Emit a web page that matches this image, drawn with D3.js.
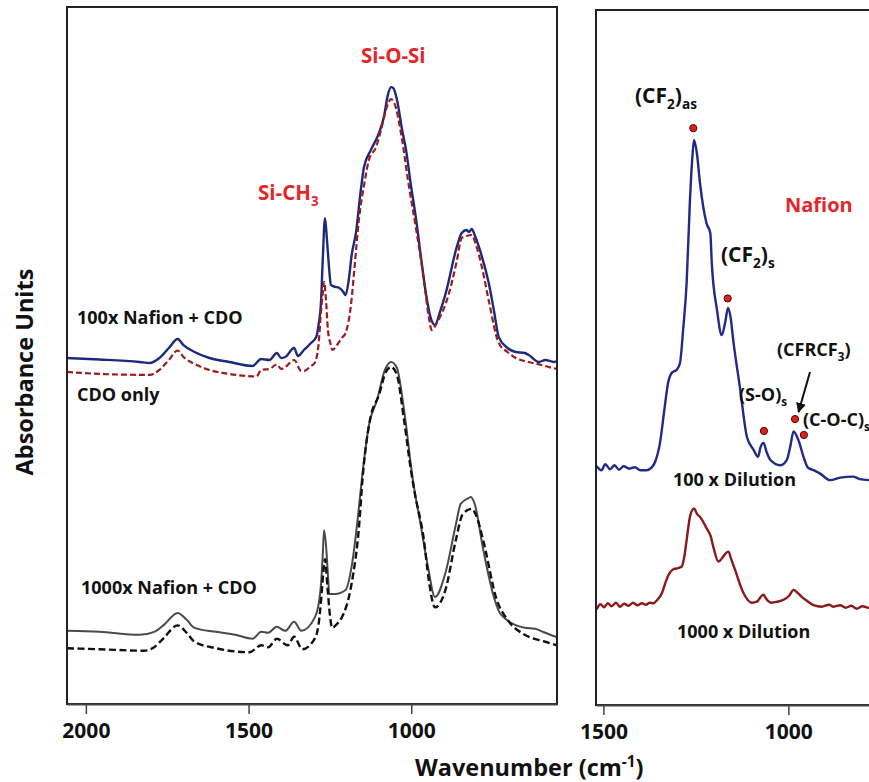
<!DOCTYPE html>
<html>
<head>
<meta charset="utf-8">
<script src="https://cdn.jsdelivr.net/npm/d3@7"></script>
<style>
  body { margin: 0; background: #fff; }
  svg { display: block; font-family: "Open Sans", sans-serif; font-weight: 700; }
</style>
</head>
<body>
<script>
// ---- data: [wavenumber (cm-1), absorbance (a.u.)] ----
const nafion100Cdo = [
  [2058,0.695],[1958,0.692],[1835,0.687],[1804,0.685],[1774,0.695],[1745,0.715],[1718,0.733],
  [1700,0.721],[1666,0.707],[1620,0.695],[1559,0.687],[1488,0.679],[1461,0.693],[1436,0.691],
  [1413,0.705],[1400,0.695],[1387,0.697],[1360,0.715],[1348,0.699],[1330,0.711],[1308,0.725],
  [1292,0.737],[1285,0.761],[1277,0.811],[1272,0.892],[1265,0.976],[1259,0.932],[1252,0.872],
  [1247,0.842],[1234,0.838],[1222,0.836],[1208,0.827],[1202,0.821],[1192,0.852],[1183,0.902],
  [1170,0.946],[1155,1.032],[1145,1.079],[1124,1.113],[1099,1.147],[1084,1.179],[1072,1.223],
  [1062,1.239],[1055,1.237],[1044,1.214],[1028,1.153],[1016,1.113],[1001,1.042],[986,0.978],
  [971,0.902],[955,0.825],[940,0.775],[927,0.761],[912,0.787],[894,0.825],[860,0.918],
  [845,0.946],[830,0.952],[823,0.948],[814,0.954],[805,0.942],[792,0.918],[762,0.846],
  [746,0.791],[731,0.737],[704,0.715],[679,0.707],[651,0.705],[639,0.701],[608,0.687],
  [588,0.691],[562,0.687],[552,0.689]
];

const cdoOnlyTop = [
  [2058,0.667],[1958,0.663],[1804,0.661],[1774,0.671],[1745,0.691],[1718,0.710],[1700,0.697],
  [1666,0.683],[1620,0.671],[1559,0.663],[1476,0.658],[1461,0.671],[1436,0.673],[1413,0.682],
  [1400,0.673],[1387,0.677],[1360,0.691],[1338,0.669],[1329,0.669],[1308,0.679],[1297,0.685],
  [1285,0.721],[1277,0.791],[1271,0.831],[1268,0.848],[1262,0.811],[1256,0.751],[1247,0.721],
  [1243,0.711],[1228,0.721],[1214,0.735],[1202,0.745],[1192,0.771],[1186,0.797],[1175,0.872],
  [1160,0.978],[1145,1.042],[1130,1.093],[1108,1.119],[1093,1.153],[1078,1.193],[1062,1.215],
  [1052,1.207],[1028,1.133],[1010,1.052],[986,0.958],[961,0.852],[946,0.777],[937,0.751],
  [920,0.767],[884,0.825],[860,0.890],[845,0.936],[830,0.940],[814,0.942],[800,0.920],
  [783,0.878],[762,0.811],[731,0.725],[704,0.707],[679,0.695],[640,0.687],[600,0.681],
  [578,0.677],[552,0.673]
];

const nafion1000Cdo = [
  [2058,0.147],[1958,0.145],[1835,0.139],[1790,0.145],[1760,0.159],[1718,0.183],[1690,0.169],
  [1666,0.153],[1600,0.145],[1540,0.139],[1488,0.131],[1461,0.145],[1440,0.143],[1413,0.155],
  [1387,0.147],[1360,0.165],[1338,0.147],[1297,0.173],[1285,0.199],[1277,0.243],[1272,0.299],
  [1268,0.349],[1262,0.319],[1256,0.259],[1252,0.221],[1234,0.221],[1202,0.229],[1183,0.277],
  [1163,0.381],[1152,0.450],[1130,0.560],[1105,0.611],[1081,0.671],[1062,0.687],[1044,0.675],
  [1022,0.590],[995,0.450],[971,0.360],[949,0.277],[927,0.215],[895,0.263],[863,0.360],
  [848,0.402],[823,0.414],[817,0.416],[805,0.402],[779,0.311],[746,0.215],[725,0.180],
  [651,0.153],[620,0.151],[588,0.143],[552,0.134]
];

const cdoOnlyBottom = [
  [2058,0.112],[1958,0.110],[1822,0.107],[1790,0.114],[1760,0.133],[1718,0.158],[1690,0.143],
  [1666,0.125],[1600,0.112],[1497,0.104],[1461,0.118],[1440,0.114],[1413,0.131],[1380,0.118],
  [1360,0.135],[1335,0.110],[1297,0.131],[1285,0.159],[1277,0.209],[1271,0.259],[1265,0.291],
  [1258,0.239],[1250,0.179],[1243,0.153],[1228,0.161],[1214,0.173],[1183,0.243],[1160,0.360],
  [1150,0.450],[1127,0.570],[1099,0.621],[1078,0.667],[1062,0.677],[1044,0.661],[1022,0.570],
  [1001,0.470],[991,0.430],[961,0.329],[946,0.249],[927,0.194],[895,0.229],[863,0.329],
  [842,0.381],[814,0.392],[800,0.378],[779,0.329],[737,0.209],[704,0.169],[651,0.139],
  [588,0.125],[552,0.118]
];

const dilution100 = [
  [1518,0.481],[1505,0.473],[1495,0.485],[1482,0.475],[1470,0.483],[1458,0.474],[1445,0.481],
  [1430,0.476],[1415,0.479],[1400,0.473],[1383,0.473],[1370,0.478],[1360,0.490],[1347,0.528],
  [1336,0.590],[1325,0.649],[1314,0.670],[1302,0.675],[1293,0.689],[1284,0.760],[1275,0.850],
  [1266,1.017],[1260,1.098],[1255,1.138],[1247,1.110],[1239,1.052],[1221,0.970],[1211,0.951],
  [1207,0.890],[1193,0.796],[1180,0.745],[1171,0.770],[1163,0.800],[1156,0.780],[1149,0.735],
  [1130,0.635],[1112,0.540],[1094,0.514],[1082,0.500],[1075,0.520],[1067,0.528],[1059,0.510],
  [1049,0.494],[1022,0.483],[1004,0.494],[995,0.520],[986,0.551],[973,0.534],[959,0.500],
  [947,0.478],[932,0.473],[914,0.466],[887,0.453],[860,0.458],[825,0.460],[807,0.455],[782,0.453]
];

const dilution1000 = [
  [1518,0.193],[1508,0.203],[1498,0.197],[1488,0.205],[1478,0.199],[1466,0.206],[1455,0.198],
  [1444,0.204],[1432,0.200],[1420,0.206],[1408,0.201],[1396,0.205],[1385,0.202],[1375,0.206],
  [1365,0.205],[1354,0.212],[1342,0.225],[1333,0.245],[1324,0.262],[1312,0.273],[1302,0.275],
  [1288,0.279],[1281,0.300],[1275,0.332],[1266,0.379],[1255,0.396],[1247,0.385],[1239,0.379],
  [1221,0.356],[1210,0.340],[1203,0.319],[1189,0.289],[1180,0.295],[1170,0.305],[1162,0.309],
  [1155,0.295],[1144,0.272],[1121,0.225],[1099,0.206],[1085,0.208],[1072,0.220],[1067,0.222],
  [1060,0.214],[1045,0.206],[1030,0.208],[1013,0.212],[998,0.220],[986,0.232],[975,0.226],
  [964,0.218],[950,0.210],[932,0.201],[910,0.198],[890,0.202],[878,0.198],[860,0.201],
  [845,0.196],[830,0.200],[815,0.194],[800,0.199],[782,0.195]
];

// peak markers on the 100x dilution curve
const peakMarks = [[1257,1.162],[1164,0.819],[1066,0.552],[982,0.576],[958,0.544]];

const leftTicks = [2000, 1500, 1000];
const rightTicks = [1500, 1000];

const width = 869;
const height = 782;

const svg = d3.select("body")
  .append("svg")
  .attr("width", width)
  .attr("height", height);

// scales
const xL = d3.scaleLinear().domain([2058, 552]).range([67, 557]);
const yL = d3.scaleLinear().domain([0, 1.4]).range([704, 7]);
const xR = d3.scaleLinear().domain([1520, 782]).range([596, 869]);
const yR = d3.scaleLinear().domain([0, 1.4]).range([705, 10]);

const lineL = d3.line().x(d => xL(d[0])).y(d => yL(d[1])).curve(d3.curveMonotoneX);
const lineR = d3.line().x(d => xR(d[0])).y(d => yR(d[1])).curve(d3.curveMonotoneX);

const defs = svg.append("defs");
defs.append("clipPath").attr("id", "clipL")
  .append("rect").attr("x", 67).attr("y", 7).attr("width", 490).attr("height", 697);
defs.append("clipPath").attr("id", "clipR")
  .append("rect").attr("x", 596).attr("y", 10).attr("width", 300).attr("height", 695);
defs.append("marker")
  .attr("id", "arrow").attr("viewBox", "0 0 10 10")
  .attr("refX", 9).attr("refY", 5)
  .attr("markerWidth", 5).attr("markerHeight", 5)
  .attr("orient", "auto")
  .append("path").attr("d", "M0,0 L10,5 L0,10 z").attr("fill", "#111");

// curves - left panel
const gL = svg.append("g").attr("clip-path", "url(#clipL)");
const leftSeries = [
  {data: nafion100Cdo, color: "#1d2a7c", dash: null, w: 2.4},
  {data: cdoOnlyTop, color: "#9e1b1b", dash: "6,3", w: 2.2},
  {data: nafion1000Cdo, color: "#4a4a4a", dash: null, w: 2},
  {data: cdoOnlyBottom, color: "#111", dash: "7,3.5", w: 2.4}
];
gL.selectAll("path")
  .data(leftSeries)
  .enter()
  .append("path")
  .attr("fill", "none")
  .attr("stroke", d => d.color)
  .attr("stroke-width", d => d.w)
  .attr("stroke-dasharray", d => d.dash)
  .attr("d", d => lineL(d.data));

// curves - right panel
const gR = svg.append("g").attr("clip-path", "url(#clipR)");
gR.append("path")
  .datum(dilution100)
  .attr("fill", "none")
  .attr("stroke", "#1f2b86")
  .attr("stroke-width", 2.4)
  .attr("d", lineR);
gR.append("path")
  .datum(dilution1000)
  .attr("fill", "none")
  .attr("stroke", "#8c1a1a")
  .attr("stroke-width", 2.4)
  .attr("d", lineR);
gR.selectAll("circle")
  .data(peakMarks)
  .enter()
  .append("circle")
  .attr("cx", d => xR(d[0]))
  .attr("cy", d => yR(d[1]))
  .attr("r", 3.6)
  .attr("fill", "#e0201c")
  .attr("stroke", "#4a0a0a")
  .attr("stroke-width", 1);

// frames
svg.append("rect")
  .attr("x", 67).attr("y", 7).attr("width", 490).attr("height", 697)
  .attr("fill", "none").attr("stroke", "#222").attr("stroke-width", 2);
svg.append("path")
  .attr("d", "M880,10 H596 V705 H880")
  .attr("fill", "none").attr("stroke", "#222").attr("stroke-width", 2);

// axes
function styleAxis(g) {
  g.attr("font-family", null).attr("font-size", null);
  g.select(".domain").attr("stroke", "#444").attr("stroke-width", 2);
  g.selectAll(".tick line").attr("stroke", "#444").attr("stroke-width", 1.5);
  g.selectAll(".tick text").attr("font-size", 21).attr("fill", "#111");
}
svg.append("g")
  .attr("transform", "translate(0,704)")
  .call(d3.axisBottom(xL).tickValues(leftTicks).tickFormat(d3.format("d"))
    .tickSize(10).tickSizeOuter(0).tickPadding(9))
  .call(styleAxis);
svg.append("g")
  .attr("transform", "translate(0,705)")
  .call(d3.axisBottom(xR).tickValues(rightTicks).tickFormat(d3.format("d"))
    .tickSize(10).tickSizeOuter(0).tickPadding(9))
  .call(styleAxis);

// text with sub/superscripts
function richText(x, y, parts, size, color) {
  const t = svg.append("text")
    .attr("x", x).attr("y", y)
    .attr("font-size", size)
    .attr("fill", color || "#111");
  let shift = 0;
  parts.forEach(([s, k]) => {
    const target = k === "sub" ? size * 0.3 : k === "sup" ? -size * 0.4 : 0;
    t.append("tspan")
      .attr("dy", target - shift)
      .attr("font-size", k ? size * 0.65 : size)
      .text(s);
    shift = target;
  });
  return t;
}

const red = "#e4262b";
richText(361, 63, [["Si-O-Si"]], 20.5, red);
richText(258, 200, [["Si-CH"], ["3", "sub"]], 20.5, red);
richText(77, 324, [["100x Nafion + CDO"]], 18);
richText(77, 401, [["CDO only"]], 18);
richText(81, 594, [["1000x Nafion + CDO"]], 18);

richText(635, 103, [["(CF"], ["2", "sub"], [")"], ["as", "sub"]], 21);
richText(785, 212, [["Nafion"]], 20, red);
richText(721, 262, [["(CF"], ["2", "sub"], [")"], ["s", "sub"]], 21);
richText(777, 356, [["(CFRCF"], ["3", "sub"], [")"]], 18);
richText(739, 401, [["(S-O)"], ["s", "sub"]], 18);
richText(803, 426, [["(C-O-C)"], ["s", "sub"]], 18);
richText(673, 486, [["100 x Dilution"]], 18);
richText(677, 638, [["1000 x Dilution"]], 18);

svg.append("line")
  .attr("x1", 810).attr("y1", 372)
  .attr("x2", 798.5).attr("y2", 412)
  .attr("stroke", "#111").attr("stroke-width", 2)
  .attr("marker-end", "url(#arrow)");

// axis titles
richText(415, 776, [["Wavenumber (cm"], ["-1", "sup"], [")"]], 23.5);
svg.append("text")
  .attr("transform", "translate(33,372) rotate(-90)")
  .attr("text-anchor", "middle")
  .attr("font-size", 23.5)
  .attr("fill", "#111")
  .text("Absorbance Units");
</script>
</body>
</html>
